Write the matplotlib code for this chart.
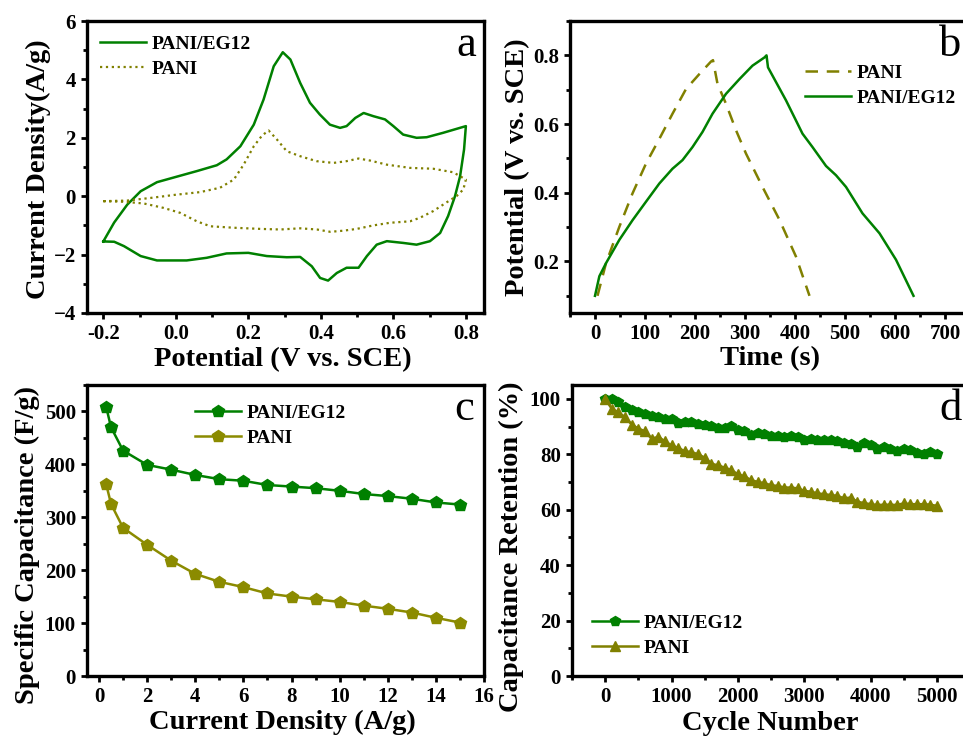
import matplotlib
matplotlib.use("Agg")
import matplotlib.pyplot as plt
from matplotlib.ticker import MultipleLocator

plt.rcParams['font.family'] = ['Liberation Serif', 'DejaVu Serif']
plt.rcParams['font.weight'] = 'bold'
plt.rcParams['axes.labelweight'] = 'bold'

GREEN = '#008000'
OLIVE = '#808000'

# (a) cyclic voltammetry
cv_eg12_v = [-0.2, -0.17, -0.134, -0.097, -0.052, 0.0, 0.058, 0.113, 0.14, 0.178, 0.215, 0.242,
             0.27, 0.295, 0.316, 0.343, 0.37, 0.397, 0.425, 0.453, 0.471, 0.495, 0.518, 0.545,
             0.577, 0.6, 0.627, 0.664, 0.692, 0.737, 0.8,
             0.795, 0.784, 0.77, 0.751, 0.729, 0.701, 0.664, 0.627, 0.582, 0.554, 0.527, 0.504,
             0.471, 0.444, 0.42, 0.398, 0.375, 0.343, 0.306, 0.251, 0.2, 0.14, 0.085, 0.03,
             -0.052, -0.097, -0.143, -0.17, -0.2]
cv_eg12_i = [-1.55, -0.9, -0.29, 0.17, 0.48, 0.66, 0.86, 1.06, 1.26, 1.71, 2.45, 3.31,
             4.45, 4.93, 4.68, 3.88, 3.2, 2.8, 2.45, 2.34, 2.4, 2.68, 2.85, 2.74,
             2.63, 2.4, 2.11, 2.0, 2.02, 2.17, 2.4,
             1.6, 0.68, 0.0, -0.68, -1.26, -1.54, -1.66, -1.6, -1.54, -1.66, -2.05, -2.45,
             -2.45, -2.63, -2.89, -2.8, -2.4, -2.08, -2.09, -2.05, -1.94, -1.96, -2.11, -2.2,
             -2.2, -2.05, -1.71, -1.56, -1.55]
cv_pani_v = [-0.2, -0.134, -0.07, 0.0, 0.067, 0.122, 0.16, 0.187, 0.215, 0.238, 0.256, 0.279,
             0.306, 0.343, 0.388, 0.435, 0.471, 0.504, 0.536, 0.582, 0.646, 0.71, 0.765, 0.8,
             0.793, 0.774, 0.747, 0.71, 0.673, 0.646, 0.591, 0.545, 0.499, 0.463, 0.426, 0.389,
             0.343, 0.288, 0.233, 0.16, 0.095, 0.058, 0.012, -0.034, -0.088, -0.143, -0.2]
cv_pani_i = [-0.17, -0.15, -0.06, 0.05, 0.14, 0.29, 0.57, 1.08, 1.71, 2.08, 2.25, 1.94,
             1.54, 1.37, 1.2, 1.14, 1.2, 1.29, 1.22, 1.08, 0.97, 0.94, 0.82, 0.57,
             0.23, 0.0, -0.21, -0.51, -0.74, -0.86, -0.91, -1.0, -1.12, -1.18, -1.22, -1.14,
             -1.1, -1.14, -1.12, -1.08, -1.03, -0.86, -0.57, -0.4, -0.25, -0.19, -0.17]

# (b) galvanostatic charge-discharge
gcd_eg12_t = [0, 8.7, 22, 48.7, 75, 102, 128.7, 155, 175, 195, 215, 235, 262, 289, 315, 339, 343,
              346, 355, 382, 415, 435, 462, 482, 502, 535, 569, 602, 637]
gcd_eg12_v = [0.1, 0.157, 0.195, 0.263, 0.32, 0.374, 0.427, 0.47, 0.495, 0.533, 0.577, 0.63,
              0.688, 0.731, 0.77, 0.794, 0.8,
              0.765, 0.741, 0.669, 0.572, 0.533, 0.478, 0.451, 0.417, 0.34, 0.282, 0.205, 0.1]
gcd_pani_t = [5, 22, 48.7, 75, 102, 128.7, 155, 182, 209, 232, 236,
              245, 262, 282, 302, 335, 369, 402, 429]
gcd_pani_v = [0.1, 0.195, 0.301, 0.398, 0.485, 0.557, 0.63, 0.702, 0.746, 0.782, 0.786,
              0.717, 0.659, 0.582, 0.514, 0.417, 0.321, 0.214, 0.1]

# (c) rate capability
current_density = [0.3, 0.5, 1, 2, 3, 4, 5, 6, 7, 8, 9, 10, 11, 12, 13, 14, 15]
cap_eg12 = [508, 470, 426, 399, 390, 380, 372, 369, 361, 358, 355, 350, 344, 340, 335, 328, 324]
cap_pani = [362, 325, 280, 248, 218, 193, 178, 168, 156, 150, 145, 140, 133, 127, 120, 110, 101]

# (d) cycling stability
cycles = list(range(0, 5001, 100))
ret_eg12 = [100, 99.9, 98.7, 96.9, 95.8, 95.1, 94.6, 93.7, 93.3, 92.7, 92.7, 91.3, 91.8, 91.5,
            91.0, 90.4, 90.1, 89.5, 89.5, 90.1, 88.9, 88.5, 87.1, 87.7, 87.5, 86.5, 86.5, 86.3,
            86.5, 86.3, 85.0, 85.4, 85.1, 85.1, 85.0, 84.7, 84.1, 83.8, 82.7, 83.9, 83.2, 82.0,
            82.6, 82.0, 81.2, 82.0, 81.5, 80.5, 80.1, 80.9, 80.1]
ret_pani = [100, 96.4, 95.1, 93.4, 90.7, 89.3, 88.3, 85.6, 86.3, 84.7, 83.2, 82.3, 81.1, 80.8,
            80.0, 78.8, 76.6, 76.0, 75.2, 74.3, 72.8, 72.0, 70.7, 70.0, 69.6, 68.8, 68.6, 68.0,
            68.0, 67.7, 66.8, 66.5, 65.9, 65.6, 65.3, 65.0, 64.1, 64.4, 62.9, 62.4, 62.0, 61.7,
            61.8, 61.8, 61.7, 62.3, 62.0, 62.0, 62.0, 61.8, 61.4]

W, H = 963, 738
fig = plt.figure(figsize=(W / 100, H / 100), dpi=100)


def rect(x0, y0, x1, y1):
    return [x0 / W, 1 - y1 / H, (x1 - x0) / W, (y1 - y0) / H]


def fig_xy(px, py):
    return (px / W, 1 - py / H)


ax_a = fig.add_axes(rect(87, 21, 484, 313))
ax_b = fig.add_axes(rect(570, 21, 970, 313))
ax_c = fig.add_axes(rect(87, 385, 484, 676))
ax_d = fig.add_axes(rect(572, 385, 970, 676))

TICK_FS = 15
LABEL_FS = 20.5
LEG_FS = 14


def style(ax, xmaj, xmin, ymaj, ymin):
    for s in ax.spines.values():
        s.set_linewidth(2.4)
    ax.xaxis.set_major_locator(MultipleLocator(xmaj))
    ax.xaxis.set_minor_locator(MultipleLocator(xmin))
    ax.yaxis.set_major_locator(MultipleLocator(ymaj))
    ax.yaxis.set_minor_locator(MultipleLocator(ymin))
    ax.tick_params(which='both', direction='out', width=2, labelsize=TICK_FS, pad=4)
    ax.tick_params(which='major', length=4)
    ax.tick_params(which='minor', length=3)


def labels(ax, xlabel, ylabel, xpos, ypos):
    ax.set_xlabel(xlabel, fontsize=LABEL_FS, va='center')
    ax.set_ylabel(ylabel, fontsize=LABEL_FS, va='center')
    ax.xaxis.set_label_coords(*xpos)
    ax.yaxis.set_label_coords(*ypos)


def legend(ax, anchor_px, spacing=0.4):
    ax.legend(loc='upper left', bbox_to_anchor=fig_xy(*anchor_px),
              bbox_transform=fig.transFigure, frameon=False,
              borderpad=0, borderaxespad=0, handlelength=2.35, handletextpad=0.3,
              labelspacing=spacing, prop={'weight': 'bold', 'size': LEG_FS})


def ticklabels(ax, xt, xl, yt, yl):
    ax.set_xticks(xt)
    ax.set_xticklabels(xl, fontweight='bold')
    ax.set_yticks(yt)
    ax.set_yticklabels(yl, fontweight='bold')


# (a)
ax_a.plot(cv_eg12_v, cv_eg12_i, color=GREEN, lw=1.8, label='PANI/EG12')
ax_a.plot(cv_pani_v, cv_pani_i, color=OLIVE, lw=1.6, ls=':', label='PANI')
ax_a.set_xlim(-0.245, 0.85)
ax_a.set_ylim(-4, 6)
style(ax_a, 0.2, 0.1, 2, 1)
ticklabels(ax_a, [-0.2, 0.0, 0.2, 0.4, 0.6, 0.8], ['-0.2', '0.0', '0.2', '0.4', '0.6', '0.8'],
           [-4, -2, 0, 2, 4, 6], ['\u22124', '\u22122', '0', '2', '4', '6'])
labels(ax_a, 'Potential (V vs. SCE)', 'Current Density(A/g)', (0.494, -0.158), (-0.123, 0.493))
legend(ax_a, (100, 35))

# (b)
ax_b.plot(gcd_pani_t, gcd_pani_v, color=OLIVE, lw=1.8, ls=(0, (5, 3.5)), label='PANI')
ax_b.plot(gcd_eg12_t, gcd_eg12_v, color=GREEN, lw=1.8, label='PANI/EG12')
ax_b.set_xlim(-50, 750)
ax_b.set_ylim(0.05, 0.9)
style(ax_b, 100, 50, 0.2, 0.1)
ticklabels(ax_b, [0, 100, 200, 300, 400, 500, 600, 700],
           [str(v) for v in [0, 100, 200, 300, 400, 500, 600, 700]],
           [0.2, 0.4, 0.6, 0.8], ['0.2', '0.4', '0.6', '0.8'])
labels(ax_b, 'Time (s)', 'Potential (V vs. SCE)', (0.5, -0.155), (-0.13, 0.5))
legend(ax_b, (805, 64))

# (c)
ax_c.plot(current_density, cap_eg12, color=GREEN, lw=1.8, marker='p', ms=9, label='PANI/EG12')
ax_c.plot(current_density, cap_pani, color='#8B8B00', lw=1.8, marker='p', ms=9, label='PANI')
ax_c.set_xlim(-0.5, 16)
ax_c.set_ylim(0, 550)
style(ax_c, 2, 1, 100, 50)
ticklabels(ax_c, range(0, 17, 2), [str(v) for v in range(0, 17, 2)],
           range(0, 501, 100), [str(v) for v in range(0, 501, 100)])
labels(ax_c, 'Current Density (A/g)', 'Specific Capacitance (F/g)',
       (0.491, -0.16), (-0.151, 0.45))
legend(ax_c, (195, 404))

# (d)
ax_d.plot(cycles, ret_eg12, color=GREEN, lw=1.8, marker='p', ms=7.5, label='PANI/EG12')
ax_d.plot(cycles, ret_pani, color=OLIVE, lw=1.8, marker='^', ms=7.5, label='PANI')
ax_d.set_xlim(-500, 5500)
ax_d.set_ylim(0, 105)
style(ax_d, 1000, 500, 20, 10)
ticklabels(ax_d, range(0, 5001, 1000), [str(v) for v in range(0, 5001, 1000)],
           range(0, 101, 20), [str(v) for v in range(0, 101, 20)])
labels(ax_d, 'Cycle Number', 'Capacitance Retention (%)', (0.499, -0.163), (-0.151, 0.443))
legend(ax_d, (592, 614))

# panel letters
for letter, (px, py) in zip('abcd', [(466, 45), (950, 45), (464, 409), (951, 409)]):
    fig.text(*fig_xy(px, py), letter, fontsize=32, fontweight='normal',
             ha='center', va='center')

fig.savefig('out.png', dpi=100)
